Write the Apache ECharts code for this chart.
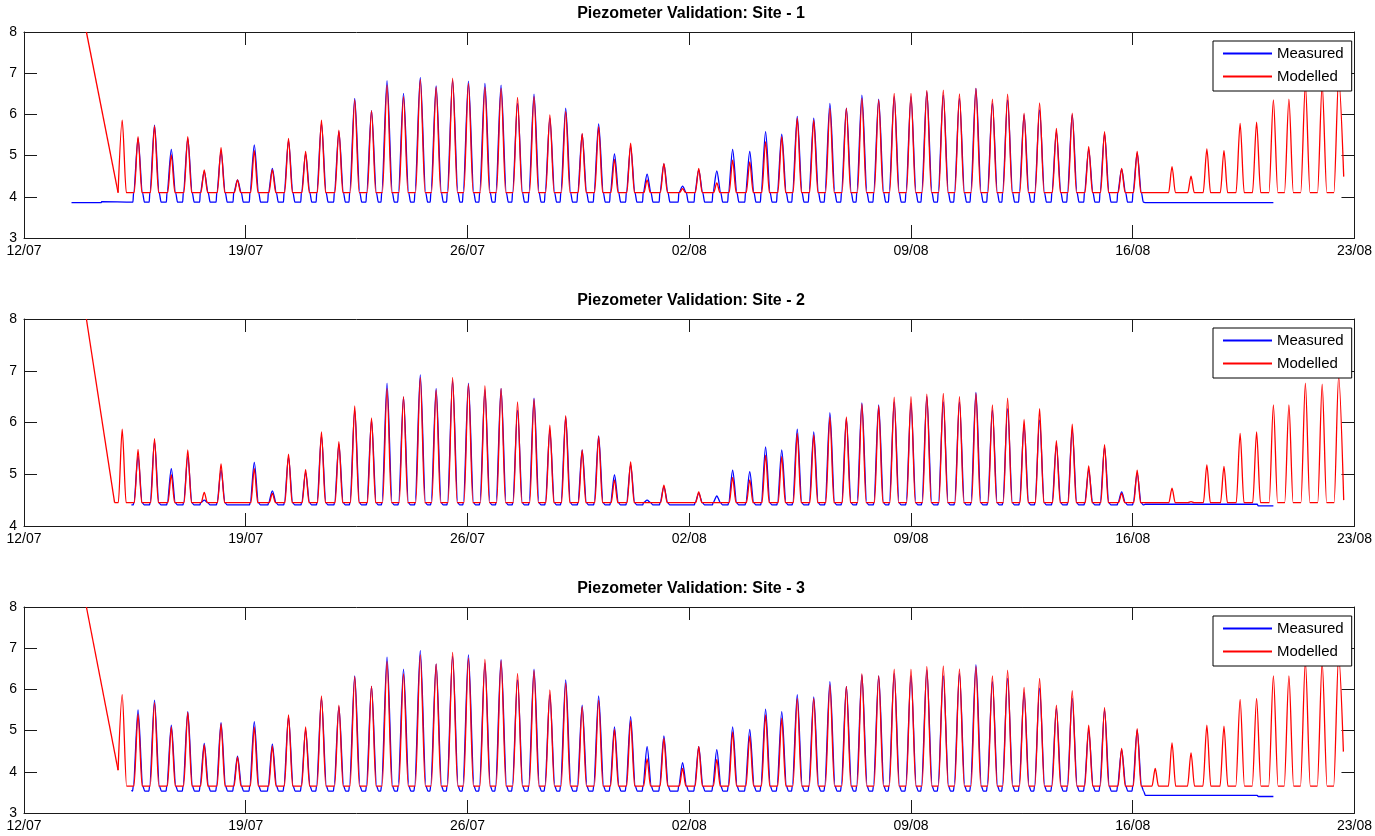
<!DOCTYPE html>
<html>
<head>
<meta charset="utf-8">
<title>Piezometer Validation</title>
<script src="https://cdn.jsdelivr.net/npm/echarts@6/dist/echarts.min.js"></script>
<style>
  html, body { margin: 0; padding: 0; background: #fff; }
  #chart { width: 1375px; height: 836px; }
</style>
</head>
<body>
<div id="chart"></div>
<script>
// x axis: days since 12/07, one tick per week
const xTickLabels = ["12/07", "19/07", "26/07", "02/08", "09/08", "16/08", "23/08"];
const siteTitles = [
  "Piezometer Validation: Site - 1",
  "Piezometer Validation: Site - 2",
  "Piezometer Validation: Site - 3",
];
const yMins = [3, 4, 3];

// time of each tidal peak (days after 12/07)
const tideDays = [
  3.10, 3.60, 4.12, 4.65, 5.17, 5.69, 6.22, 6.74, 7.27, 7.84,
  8.35, 8.89, 9.39, 9.94, 10.44, 10.97, 11.46, 11.98, 12.51, 13.01,
  13.53, 14.03, 14.55, 15.06, 15.58, 16.10, 16.60, 17.10, 17.62, 18.14,
  18.64, 19.15, 19.67, 20.20, 20.79, 21.30, 21.87, 22.37, 22.91, 23.41,
  23.92, 24.41, 24.93, 25.44, 25.96, 26.45, 26.98, 27.47, 28.00, 28.50,
  29.02, 29.53, 30.05, 30.57, 31.05, 31.57, 32.06, 32.59, 33.09, 33.61,
  34.11, 34.65, 35.14, 35.71, 36.24, 36.84, 37.34, 37.88, 38.39, 38.91,
  39.44, 39.93, 40.45, 40.98, 41.50,
];

// peak levels, one per tide
const site1Modelled = [
  5.86, 5.46, 5.72, 5.02, 5.46, 4.65, 5.19, 4.41, 5.12, 4.66,
  5.42, 5.10, 5.86, 5.62, 6.35, 6.09, 6.71, 6.43, 6.85, 6.66,
  6.88, 6.75, 6.66, 6.63, 6.41, 6.43, 5.99, 6.07, 5.54, 5.70,
  4.91, 5.30, 4.41, 4.81, 4.20, 4.69, 4.34, 4.89, 4.85, 5.34,
  5.46, 5.91, 5.86, 6.15, 6.15, 6.39, 6.35, 6.51, 6.51, 6.58,
  6.59, 6.50, 6.63, 6.37, 6.49, 6.03, 6.28, 5.66, 6.03, 5.22,
  5.58, 4.69, 5.10, 4.10, 4.73, 4.50, 5.16, 5.12, 5.78, 5.81,
  6.35, 6.37, 6.72, 6.72, 6.88,
];
const site1Measured = [
  null, 5.42, 5.74, 5.15, 5.42, 4.61, 5.10, 4.41, 5.26, 4.69,
  5.36, 5.04, 5.78, 5.58, 6.39, 6.09, 6.82, 6.51, 6.90, 6.69,
  6.83, 6.81, 6.75, 6.71, 6.27, 6.49, 5.91, 6.15, 5.52, 5.77,
  5.04, 5.22, 4.55, 4.80, 4.26, 4.65, 4.63, 5.15, 5.10, 5.58,
  5.52, 5.95, 5.91, 6.27, 6.15, 6.47, 6.37, 6.43, 6.43, 6.55,
  6.47, 6.39, 6.63, 6.27, 6.35, 5.99, 6.11, 5.58, 5.99, 5.15,
  5.54, 4.67, 5.06,
];
const site2Modelled = [
  5.87, 5.48, 5.69, 4.99, 5.47, 4.65, 5.20, 4.45, 5.11, 4.63,
  5.39, 5.09, 5.82, 5.63, 6.32, 6.09, 6.66, 6.50, 6.87, 6.63,
  6.87, 6.74, 6.71, 6.66, 6.40, 6.45, 5.95, 6.13, 5.47, 5.73,
  4.89, 5.24, 4.45, 4.79, 4.45, 4.66, 4.45, 4.94, 4.89, 5.37,
  5.34, 5.79, 5.76, 6.11, 6.11, 6.36, 6.32, 6.49, 6.50, 6.55,
  6.56, 6.50, 6.56, 6.34, 6.47, 6.06, 6.27, 5.65, 5.97, 5.16,
  5.57, 4.63, 5.08, 4.45, 4.73, 4.47, 5.18, 5.15, 5.79, 5.82,
  6.34, 6.34, 6.76, 6.74, 6.89,
];
const site2Measured = [
  null, 5.35, 5.63, 5.11, 5.34, 4.50, 5.08, null, 5.23, 4.68,
  5.33, 5.03, 5.74, 5.58, 6.24, 6.05, 6.76, 6.49, 6.92, 6.66,
  6.81, 6.76, 6.63, 6.66, 6.24, 6.47, 5.85, 6.11, 5.47, 5.74,
  4.99, 5.18, 4.50, 4.76, null, 4.63, 4.58, 5.08, 5.05, 5.53,
  5.47, 5.87, 5.82, 6.19, 6.08, 6.38, 6.34, 6.40, 6.37, 6.50,
  6.40, 6.40, 6.58, 6.24, 6.27, 5.95, 6.05, 5.57, 5.86, 5.08,
  5.53, 4.66, 5.02,
];
const site3Modelled = [
  5.87, 5.40, 5.68, 5.09, 5.44, 4.65, 5.16, 4.36, 5.09, 4.62,
  5.38, 5.09, 5.84, 5.62, 6.31, 6.08, 6.68, 6.38, 6.84, 6.62,
  6.90, 6.76, 6.73, 6.70, 6.39, 6.46, 5.99, 6.15, 5.58, 5.74,
  5.03, 5.24, 4.32, 4.81, 4.08, 4.61, 4.30, 4.97, 4.87, 5.38,
  5.30, 5.78, 5.78, 6.11, 6.07, 6.38, 6.33, 6.49, 6.49, 6.56,
  6.57, 6.50, 6.56, 6.33, 6.47, 6.05, 6.27, 5.62, 5.97, 5.13,
  5.56, 4.57, 5.05, 4.08, 4.70, 4.46, 5.13, 5.11, 5.76, 5.78,
  6.33, 6.33, 6.68, 6.66, 6.82,
];
const site3Measured = [
  null, 5.50, 5.74, 5.13, 5.46, 4.69, 5.19, 4.38, 5.22, 4.67,
  5.34, 5.01, 5.78, 5.58, 6.33, 6.07, 6.78, 6.49, 6.94, 6.62,
  6.80, 6.84, 6.64, 6.72, 6.23, 6.49, 5.87, 6.23, 5.62, 5.84,
  5.09, 5.34, 4.61, 4.87, 4.22, 4.61, 4.54, 5.09, 5.03, 5.52,
  5.46, 5.87, 5.82, 6.19, 6.07, 6.35, 6.33, 6.39, 6.33, 6.47,
  6.33, 6.39, 6.60, 6.19, 6.27, 5.92, 6.03, 5.54, 5.78, 5.01,
  5.50, 4.54, 5.01,
];

// level between tides
const modelledBase = [4.10, 4.45, 3.65];
const measuredLow = [3.87, 4.41, 3.53];

// model spin-up at the start and the last point of each model run
const site1SpinUp = [[1.97, 8.0], [2.97, 4.10]];
const site2SpinUp = [[1.97, 8.0], [2.86, 4.45]];
const site3SpinUp = [[1.97, 8.0], [2.97, 4.04]];
const modelledEnd = [[41.66, 4.49], [41.66, 4.50], [41.65, 4.49]];

// logger record before the first and after the last tide
const site1MeasuredHead = [[1.50, 3.86], [2.44, 3.86], [2.45, 3.88]];
const site2MeasuredHead = [[3.39, 4.41]];
const site3MeasuredHead = [[3.39, 3.55]];
const site1MeasuredTail = [[35.40, 3.86], [39.44, 3.86]];
const site2MeasuredTail = [[35.40, 4.42], [38.93, 4.42], [38.96, 4.39], [39.44, 4.39]];
const site3MeasuredTail = [[35.40, 3.43], [38.93, 3.43], [38.96, 3.40], [39.44, 3.40]];

const modelled = [site1Modelled, site2Modelled, site3Modelled];
const measured = [site1Measured, site2Measured, site3Measured];
const spinUps = [site1SpinUp, site2SpinUp, site3SpinUp];
const measuredHeads = [site1MeasuredHead, site2MeasuredHead, site3MeasuredHead];
const measuredTails = [site1MeasuredTail, site2MeasuredTail, site3MeasuredTail];

// how wide a tide looks above the base (days), grows with the height
function halfWidth(h) {
  return 0.095 + 0.02 * h;
}

// tidal part of the model run, starts where the spin-up ends
function modelledLine(i) {
  const base = modelledBase[i];
  const peaks = modelled[i];
  const pts = [spinUps[i][spinUps[i].length - 1]];
  peaks.forEach((p, k) => {
    const t = tideDays[k];
    const last = k === peaks.length - 1;
    if (p <= base && !last) return;
    const w = halfWidth(p - base);
    if (t - w > pts[pts.length - 1][0]) pts.push([t - w, base]);
    pts.push([t, p]);
    if (!last) pts.push([t + w, base]);
  });
  pts.push(modelledEnd[i]);
  return pts;
}

function measuredLine(i) {
  const base = modelledBase[i];
  const low = measuredLow[i];
  const pts = measuredHeads[i].slice();
  measured[i].forEach((p, k) => {
    if (p == null || p <= base) return;
    const t = tideDays[k];
    const w = halfWidth(p - base) + 0.02;
    pts.push([t - w - 0.02, low], [t - w, base], [t, p], [t + w, base], [t + w + 0.06, low]);
  });
  return pts.concat(measuredTails[i]);
}

const font = "Liberation Sans, Arial, Helvetica, sans-serif";
const axisColor = "#1a1a1a";
const gridTops = [32, 319, 607];
const gridHeights = [206, 207, 206];
const titleTops = [5, 292, 580];
const legendTops = [41, 328, 616];

const chart = echarts.init(document.getElementById("chart"));

const grids = [];
const xAxes = [];
const yAxes = [];
const titles = [];
const legends = [];
const series = [];

for (let i = 0; i < 3; i++) {
  grids.push({ left: 24, top: gridTops[i], width: 1335, height: gridHeights[i], show: false });
  titles.push({
    text: siteTitles[i],
    left: 691,
    top: titleTops[i],
    textAlign: "center",
    padding: 0,
    textStyle: { fontSize: 16, fontWeight: "bold", color: "#000", fontFamily: font, lineHeight: 18 },
  });
  legends.push({
    data: ["Measured", "Modelled"],
    orient: "vertical",
    left: 1213,
    top: legendTops[i],
    padding: [5, 8, 7, 9],
    itemGap: 8,
    itemWidth: 49,
    itemHeight: 14,
    selectedMode: false,
    borderColor: "#000",
    borderWidth: 1,
    backgroundColor: "#fff",
    itemStyle: { opacity: 0 },
    textStyle: { fontSize: 15, color: "#000", fontFamily: font },
  });
}

// bottom + top x axes, left + right y axes, so each plot is a closed box
["bottom", "top"].forEach((pos) => {
  for (let i = 0; i < 3; i++) {
    xAxes.push({
      type: "value",
      gridIndex: i,
      position: pos,
      min: 0,
      max: 42,
      interval: 7,
      axisLine: { show: true, onZero: false, lineStyle: { color: axisColor, width: 1 } },
      axisTick: { show: true, inside: true, length: 13, lineStyle: { color: axisColor } },
      axisLabel: {
        show: pos === "bottom",
        margin: 6,
        fontSize: 14,
        color: "#000",
        fontFamily: font,
        formatter: (v) => xTickLabels[Math.round(v / 7)],
      },
      splitLine: { show: false },
    });
  }
});
["left", "right"].forEach((pos) => {
  for (let i = 0; i < 3; i++) {
    yAxes.push({
      type: "value",
      gridIndex: i,
      position: pos,
      min: yMins[i],
      max: 8,
      interval: 1,
      axisLine: { show: true, onZero: false, lineStyle: { color: axisColor, width: 1 } },
      axisTick: { show: true, inside: true, length: 13, lineStyle: { color: axisColor } },
      axisLabel: { show: pos === "left", margin: 7, fontSize: 14, color: "#000", fontFamily: font },
      splitLine: { show: false },
    });
  }
});

for (let i = 0; i < 3; i++) {
  series.push({
    name: "Measured",
    type: "line",
    xAxisIndex: i,
    yAxisIndex: i,
    data: measuredLine(i),
    showSymbol: false,
    smooth: 0.3,
    smoothMonotone: "x",
    color: "#0000ff",
    lineStyle: { width: 1.3, color: "#0000ff" },
    animation: false,
  });
  // spin-up is a straight drop, drawn without smoothing
  series.push({
    name: "Modelled",
    type: "line",
    xAxisIndex: i,
    yAxisIndex: i,
    data: spinUps[i],
    showSymbol: false,
    color: "#ff0000",
    lineStyle: { width: 1.3, color: "#ff0000" },
    animation: false,
  });
  series.push({
    name: "Modelled",
    type: "line",
    xAxisIndex: i,
    yAxisIndex: i,
    data: modelledLine(i),
    showSymbol: false,
    smooth: 0.3,
    smoothMonotone: "x",
    color: "#ff0000",
    lineStyle: { width: 1.3, color: "#ff0000" },
    animation: false,
  });
}

chart.setOption({
  backgroundColor: "#fff",
  animation: false,
  title: titles,
  legend: legends,
  grid: grids,
  xAxis: xAxes,
  yAxis: yAxes,
  series: series,
});
</script>
</body>
</html>
